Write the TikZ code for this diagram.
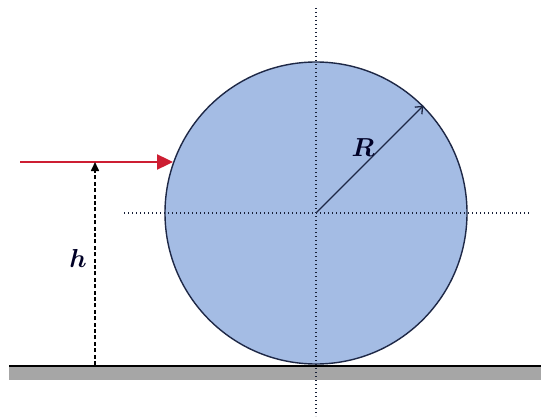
\documentclass[tikz,border=0pt]{standalone}
\usepackage{bm}
\usetikzlibrary{arrows.meta}
\definecolor{ballfill}{RGB}{164,188,228}
\definecolor{balledge}{RGB}{30,40,70}
\definecolor{groundgray}{RGB}{166,166,166}
\definecolor{forcered}{RGB}{205,30,50}
\newcommand{\biglab}[1]{\scalebox{2.6}{$\bm{#1}$}}
\begin{document}
\begin{tikzpicture}[x=1pt,y=-1pt,
  ball/.style={circle,draw=balledge,line width=1.4pt,fill=ballfill,minimum size=302pt,inner sep=0pt},
  axisline/.style={draw=balledge!80!black,line width=1.2pt,dash pattern=on 1.4pt off 2.6pt},
  force/.style={draw=forcered,line width=2.4pt,-{Triangle[length=16pt,width=15pt]}},
  height/.style={line width=1.6pt,dash pattern=on 4pt off 2.4pt,-{Triangle[length=9pt,width=8pt]}},
  radius/.style={draw=balledge,line width=1.3pt,-{Straight Barb[length=6pt,width=10pt]}},
  lab/.style={inner sep=0pt,text=black!85!blue}]
\useasboundingbox (0,0) rectangle (543,417);
\fill[white] (0,0) rectangle (543,417);
% ground
\node[fill=groundgray,minimum width=532pt,minimum height=14pt,inner sep=0pt,anchor=north west] (ground) at (9,366) {};
\node[ball] (ball) at (316,213) {};
\draw[line width=1.6pt] (ground.north west) -- (ground.north east);
% axes
\coordinate (vtop) at (316,8);
\coordinate (vbot) at (316,416);
\coordinate (hleft) at (124,213);
\coordinate (hright) at (530,213);
\draw[axisline] (vtop) -- (vbot);
\draw[axisline] (hleft) -- (hright);
% radius
\draw[radius] (ball.center) -- (ball.45);
\node[lab] (R) at (363,148) {\biglab{R}};
% force
\coordinate (fstart) at (20,162);
\coordinate (fend) at (173,162);
\draw[force] (fstart) -- (fend);
% height
\coordinate (hbot) at (95,365);
\coordinate (htop) at (95,162);
\draw[height] (hbot) -- (htop);
\node[lab] (h) at (78,258) {\biglab{h}};
\end{tikzpicture}
\end{document}
